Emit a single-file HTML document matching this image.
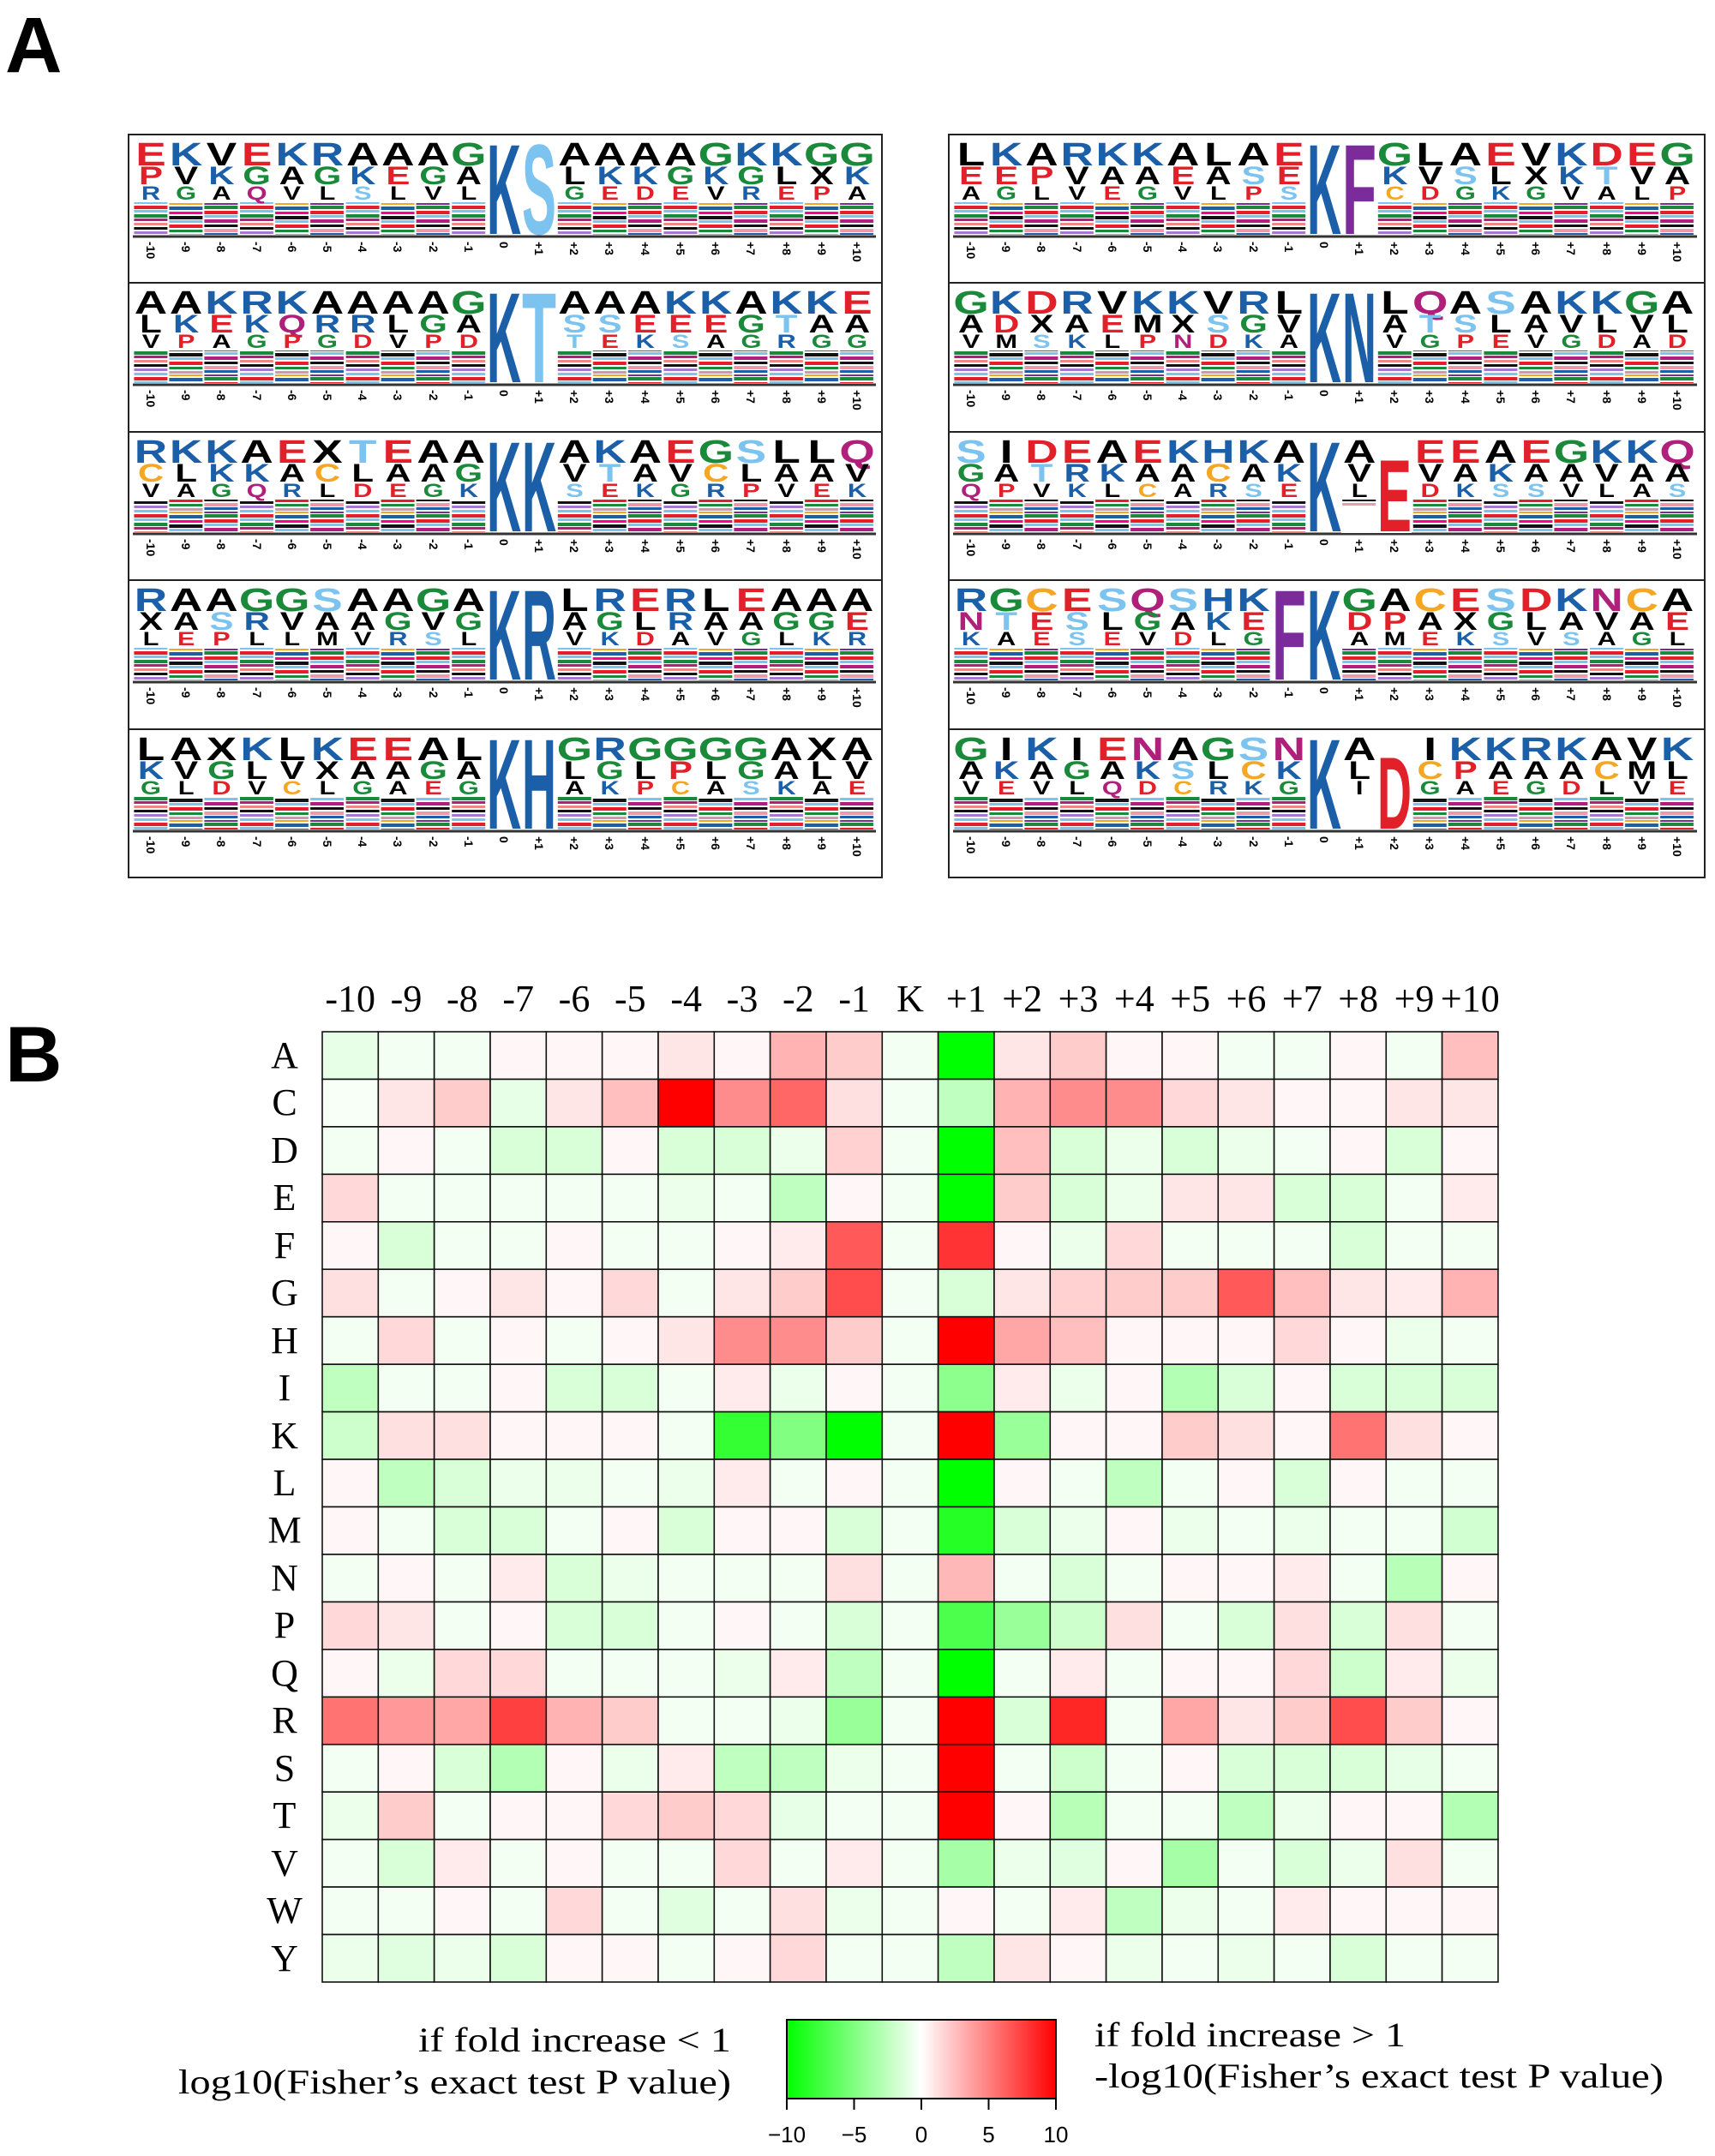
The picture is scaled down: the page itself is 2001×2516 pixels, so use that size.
<!DOCTYPE html>
<html><head><meta charset="utf-8">
<style>
html,body{margin:0;padding:0;background:#fff}
svg{display:block}
.lg{font-family:"Liberation Sans",sans-serif;font-weight:bold}
.k{fill:#1b5fa8}.e{fill:#e2202a}.g{fill:#1a8a3a}.s{fill:#7cc4ef}.c{fill:#f5a623}.n{fill:#b0207a}.f{fill:#7b2c9a}
.tk text{font-family:"Liberation Sans",sans-serif;font-size:14px;font-weight:bold;dominant-baseline:central}
.hm{font-family:"Liberation Serif",serif;font-size:44px}
</style></head>
<body>
<svg id="s" width="2001" height="2516" viewBox="0 0 2001 2516" xmlns="http://www.w3.org/2000/svg">
<defs>
<pattern id="pa" patternUnits="userSpaceOnUse" x="155.4" y="0" width="123.6" height="40">
<rect x="1" y="0" width="39" height="4" fill="#e2202a"/><rect x="1" y="5" width="39" height="3" fill="#7cc4ef"/><rect x="1" y="10" width="39" height="4" fill="#1a8a3a"/><rect x="1" y="15" width="39" height="3" fill="#b0207a"/><rect x="1" y="20" width="39" height="3" fill="#e88"/><rect x="1" y="25" width="39" height="3" fill="#111"/><rect x="1" y="30" width="39" height="3" fill="#a7c"/><rect x="1" y="35" width="39" height="3" fill="#7cc4ef"/>
<rect x="42" y="1" width="39" height="4" fill="#1b5fa8"/><rect x="42" y="7" width="39" height="3" fill="#f08"/><rect x="42" y="12" width="39" height="4" fill="#111"/><rect x="42" y="17" width="39" height="3" fill="#7cc4ef"/><rect x="42" y="22" width="39" height="4" fill="#e2202a"/><rect x="42" y="28" width="39" height="3" fill="#1a8a3a"/><rect x="42" y="33" width="39" height="3" fill="#c9a"/><rect x="42" y="37" width="39" height="2" fill="#f5a623"/>
<rect x="83" y="0" width="39" height="4" fill="#1a8a3a"/><rect x="83" y="6" width="39" height="4" fill="#e2202a"/><rect x="83" y="11" width="39" height="3" fill="#7cc4ef"/><rect x="83" y="16" width="39" height="4" fill="#b0207a"/><rect x="83" y="22" width="39" height="3" fill="#111"/><rect x="83" y="27" width="39" height="4" fill="#e9a"/><rect x="83" y="32" width="39" height="3" fill="#1b5fa8"/><rect x="83" y="37" width="39" height="2" fill="#7b2c9a"/>
</pattern>
</defs>

<text x="6" y="84" font-family="Liberation Sans,sans-serif" font-weight="bold" font-size="92">A</text>
<text x="6" y="1262" font-family="Liberation Sans,sans-serif" font-weight="bold" font-size="92">B</text>

<rect x="150" y="157" width="879" height="867" fill="none" stroke="#222" stroke-width="2"/>
<rect x="1107" y="157" width="882" height="867" fill="none" stroke="#222" stroke-width="2"/>
<g stroke="#222" stroke-width="2">
<line x1="150" y1="330" x2="1029" y2="330"/><line x1="150" y1="504" x2="1029" y2="504"/><line x1="150" y1="677" x2="1029" y2="677"/><line x1="150" y1="851" x2="1029" y2="851"/>
<line x1="1107" y1="330" x2="1989" y2="330"/><line x1="1107" y1="504" x2="1989" y2="504"/><line x1="1107" y1="677" x2="1989" y2="677"/><line x1="1107" y1="851" x2="1989" y2="851"/>
</g>
<g stroke="#333" stroke-width="3">
<line x1="155" y1="276" x2="1022" y2="276"/><line x1="155" y1="449" x2="1022" y2="449"/><line x1="155" y1="623" x2="1022" y2="623"/><line x1="155" y1="796" x2="1022" y2="796"/><line x1="155" y1="970" x2="1022" y2="970"/>
<line x1="1112" y1="276" x2="1980" y2="276"/><line x1="1112" y1="449" x2="1980" y2="449"/><line x1="1112" y1="623" x2="1980" y2="623"/><line x1="1112" y1="796" x2="1980" y2="796"/><line x1="1112" y1="970" x2="1980" y2="970"/>
</g>

<g fill="url(#pa)">
<rect x="155" y="236" width="866" height="38"/><rect x="155" y="409" width="866" height="38"/><rect x="155" y="583" width="866" height="38"/><rect x="155" y="756" width="866" height="38"/><rect x="155" y="930" width="866" height="38"/>
<rect x="155" y="236" width="866" height="38" transform="translate(957,0)"/><rect x="155" y="409" width="866" height="38" transform="translate(957,0)"/><rect x="155" y="583" width="866" height="38" transform="translate(957,0)"/><rect x="155" y="756" width="866" height="38" transform="translate(957,0)"/><rect x="155" y="930" width="866" height="38" transform="translate(957,0)"/>
</g>
<g fill="#fff">
<rect x="567" y="160" width="82" height="114"/><rect x="567" y="333" width="82" height="114"/><rect x="567" y="507" width="82" height="114"/><rect x="567" y="680" width="82" height="114"/><rect x="567" y="854" width="82" height="114"/>
<rect x="1524" y="160" width="82" height="114"/><rect x="1524" y="333" width="82" height="114"/><rect x="1524" y="507" width="41" height="114"/><rect x="1565" y="590" width="41" height="32"/><rect x="1606" y="534" width="41" height="88"/><rect x="1483" y="680" width="82" height="114"/><rect x="1524" y="854" width="41" height="114"/><rect x="1565" y="905" width="41" height="63"/><rect x="1606" y="880" width="41" height="88"/>
</g>

<!-- letters left -->
<g class="lg" text-anchor="middle" transform="translate(176,0) scale(1.4,1)">
<text font-size="38" y="193" x="0 29.4 58.9 88.3 117.7 147.1 176.6 206 235.4 264.9 353.2 382.6 412 441.4 470.9 500.3 529.7 559.1 588.6"><tspan class="e">E</tspan><tspan class="k">K</tspan>V<tspan class="e">E</tspan><tspan class="k">KR</tspan>AAA<tspan class="g">G</tspan>AAAA<tspan class="g">G</tspan><tspan class="k">KK</tspan><tspan class="g">GG</tspan></text>
<text font-size="30" y="215" x="0 29.4 58.9 88.3 117.7 147.1 176.6 206 235.4 264.9 353.2 382.6 412 441.4 470.9 500.3 529.7 559.1 588.6"><tspan class="e">P</tspan>V<tspan class="k">K</tspan><tspan class="g">G</tspan>A<tspan class="g">G</tspan><tspan class="k">K</tspan><tspan class="e">E</tspan><tspan class="g">G</tspan>AL<tspan class="k">KK</tspan><tspan class="g">G</tspan><tspan class="k">K</tspan><tspan class="g">G</tspan>LX<tspan class="k">K</tspan></text>
<text font-size="22" y="233" x="0 29.4 58.9 88.3 117.7 147.1 176.6 206 235.4 264.9 353.2 382.6 412 441.4 470.9 500.3 529.7 559.1 588.6"><tspan class="k">R</tspan><tspan class="g">G</tspan>A<tspan class="n">Q</tspan>VL<tspan class="s">S</tspan>LVL<tspan class="g">G</tspan><tspan class="e">EDE</tspan>V<tspan class="k">R</tspan><tspan class="e">EP</tspan>A</text>

<text font-size="38" y="366" x="0 29.4 58.9 88.3 117.7 147.1 176.6 206 235.4 264.9 353.2 382.6 412 441.4 470.9 500.3 529.7 559.1 588.6">AA<tspan class="k">KRK</tspan>AAAA<tspan class="g">G</tspan>AAA<tspan class="k">KK</tspan>A<tspan class="k">KK</tspan><tspan class="e">E</tspan></text>
<text font-size="30" y="388" x="0 29.4 58.9 88.3 117.7 147.1 176.6 206 235.4 264.9 353.2 382.6 412 441.4 470.9 500.3 529.7 559.1 588.6">L<tspan class="k">K</tspan><tspan class="e">E</tspan><tspan class="k">K</tspan><tspan class="n">Q</tspan><tspan class="k">RR</tspan>L<tspan class="g">G</tspan>A<tspan class="s">SS</tspan><tspan class="e">EEE</tspan><tspan class="g">G</tspan><tspan class="s">T</tspan>AA</text>
<text font-size="22" y="406" x="0 29.4 58.9 88.3 117.7 147.1 176.6 206 235.4 264.9 353.2 382.6 412 441.4 470.9 500.3 529.7 559.1 588.6">V<tspan class="e">P</tspan>A<tspan class="g">G</tspan><tspan class="e">P</tspan><tspan class="g">G</tspan><tspan class="e">D</tspan>V<tspan class="e">PD</tspan><tspan class="s">T</tspan><tspan class="e">E</tspan><tspan class="k">K</tspan><tspan class="s">S</tspan>A<tspan class="g">G</tspan><tspan class="k">R</tspan><tspan class="g">GG</tspan></text>

<text font-size="38" y="540" x="0 29.4 58.9 88.3 117.7 147.1 176.6 206 235.4 264.9 353.2 382.6 412 441.4 470.9 500.3 529.7 559.1 588.6"><tspan class="k">RKK</tspan>A<tspan class="e">E</tspan>X<tspan class="s">T</tspan><tspan class="e">E</tspan>AAA<tspan class="k">K</tspan>A<tspan class="e">E</tspan><tspan class="g">G</tspan><tspan class="s">S</tspan>LL<tspan class="n">Q</tspan></text>
<text font-size="30" y="562" x="0 29.4 58.9 88.3 117.7 147.1 176.6 206 235.4 264.9 353.2 382.6 412 441.4 470.9 500.3 529.7 559.1 588.6"><tspan class="c">C</tspan>L<tspan class="k">KK</tspan>A<tspan class="c">C</tspan>LAA<tspan class="g">G</tspan>V<tspan class="s">T</tspan>AV<tspan class="c">C</tspan>LAAV</text>
<text font-size="22" y="580" x="0 29.4 58.9 88.3 117.7 147.1 176.6 206 235.4 264.9 353.2 382.6 412 441.4 470.9 500.3 529.7 559.1 588.6">VA<tspan class="g">G</tspan><tspan class="n">Q</tspan><tspan class="k">R</tspan>L<tspan class="e">DE</tspan><tspan class="g">G</tspan><tspan class="k">K</tspan><tspan class="s">S</tspan><tspan class="e">E</tspan><tspan class="k">K</tspan><tspan class="g">G</tspan><tspan class="k">R</tspan><tspan class="e">P</tspan>V<tspan class="e">E</tspan><tspan class="k">K</tspan></text>

<text font-size="38" y="713" x="0 29.4 58.9 88.3 117.7 147.1 176.6 206 235.4 264.9 353.2 382.6 412 441.4 470.9 500.3 529.7 559.1 588.6"><tspan class="k">R</tspan>AA<tspan class="g">GG</tspan><tspan class="s">S</tspan>AA<tspan class="g">G</tspan>AL<tspan class="k">R</tspan><tspan class="e">E</tspan><tspan class="k">R</tspan>L<tspan class="e">E</tspan>AAA</text>
<text font-size="30" y="735" x="0 29.4 58.9 88.3 117.7 147.1 176.6 206 235.4 264.9 353.2 382.6 412 441.4 470.9 500.3 529.7 559.1 588.6">XA<tspan class="s">S</tspan><tspan class="k">R</tspan>VAA<tspan class="g">G</tspan>V<tspan class="g">G</tspan>A<tspan class="g">G</tspan>L<tspan class="k">R</tspan>AA<tspan class="g">GG</tspan><tspan class="e">E</tspan></text>
<text font-size="22" y="753" x="0 29.4 58.9 88.3 117.7 147.1 176.6 206 235.4 264.9 353.2 382.6 412 441.4 470.9 500.3 529.7 559.1 588.6">L<tspan class="e">EP</tspan>LLMV<tspan class="k">R</tspan><tspan class="s">S</tspan>LV<tspan class="k">K</tspan><tspan class="e">D</tspan>AV<tspan class="g">G</tspan>L<tspan class="k">KR</tspan></text>

<text font-size="38" y="887" x="0 29.4 58.9 88.3 117.7 147.1 176.6 206 235.4 264.9 353.2 382.6 412 441.4 470.9 500.3 529.7 559.1 588.6">LAX<tspan class="k">K</tspan>L<tspan class="k">K</tspan><tspan class="e">EE</tspan>AL<tspan class="g">G</tspan><tspan class="k">R</tspan><tspan class="g">GGGG</tspan>AXA</text>
<text font-size="30" y="909" x="0 29.4 58.9 88.3 117.7 147.1 176.6 206 235.4 264.9 353.2 382.6 412 441.4 470.9 500.3 529.7 559.1 588.6"><tspan class="k">K</tspan>V<tspan class="g">G</tspan>LVXAA<tspan class="g">G</tspan>AL<tspan class="g">G</tspan>L<tspan class="e">P</tspan>L<tspan class="g">G</tspan>ALV</text>
<text font-size="22" y="927" x="0 29.4 58.9 88.3 117.7 147.1 176.6 206 235.4 264.9 353.2 382.6 412 441.4 470.9 500.3 529.7 559.1 588.6"><tspan class="g">G</tspan>L<tspan class="e">D</tspan>V<tspan class="c">C</tspan>L<tspan class="g">G</tspan>A<tspan class="e">E</tspan><tspan class="g">G</tspan>A<tspan class="k">K</tspan><tspan class="e">P</tspan><tspan class="c">C</tspan>A<tspan class="s">S</tspan><tspan class="k">K</tspan>A<tspan class="e">E</tspan></text>
</g>

<!-- letters right -->
<g class="lg" text-anchor="middle" transform="translate(1133,0) scale(1.4,1)">
<text font-size="38" y="193" x="0 29.4 58.9 88.3 117.7 147.1 176.6 206 235.4 264.9 353.2 382.6 412 441.4 470.9 500.3 529.7 559.1 588.6">L<tspan class="k">K</tspan>A<tspan class="k">RKK</tspan>ALA<tspan class="e">E</tspan><tspan class="g">G</tspan>LA<tspan class="e">E</tspan>V<tspan class="k">K</tspan><tspan class="e">DE</tspan><tspan class="g">G</tspan></text>
<text font-size="30" y="215" x="0 29.4 58.9 88.3 117.7 147.1 176.6 206 235.4 264.9 353.2 382.6 412 441.4 470.9 500.3 529.7 559.1 588.6"><tspan class="e">EEP</tspan>VAA<tspan class="e">E</tspan>A<tspan class="s">S</tspan><tspan class="e">E</tspan><tspan class="k">K</tspan>V<tspan class="s">S</tspan>LX<tspan class="k">K</tspan><tspan class="s">T</tspan>VA</text>
<text font-size="22" y="233" x="0 29.4 58.9 88.3 117.7 147.1 176.6 206 235.4 264.9 353.2 382.6 412 441.4 470.9 500.3 529.7 559.1 588.6">A<tspan class="g">G</tspan>LV<tspan class="e">E</tspan><tspan class="g">G</tspan>VL<tspan class="e">P</tspan><tspan class="s">S</tspan><tspan class="c">C</tspan><tspan class="e">D</tspan><tspan class="g">G</tspan><tspan class="k">K</tspan><tspan class="g">G</tspan>VAL<tspan class="e">P</tspan></text>

<text font-size="38" y="366" x="0 29.4 58.9 88.3 117.7 147.1 176.6 206 235.4 264.9 353.2 382.6 412 441.4 470.9 500.3 529.7 559.1 588.6"><tspan class="g">G</tspan><tspan class="k">K</tspan><tspan class="e">D</tspan><tspan class="k">R</tspan>V<tspan class="k">KK</tspan>V<tspan class="k">R</tspan>LL<tspan class="n">Q</tspan>A<tspan class="s">S</tspan>A<tspan class="k">KK</tspan><tspan class="g">G</tspan>A</text>
<text font-size="30" y="388" x="0 29.4 58.9 88.3 117.7 147.1 176.6 206 235.4 264.9 353.2 382.6 412 441.4 470.9 500.3 529.7 559.1 588.6">A<tspan class="e">D</tspan>XA<tspan class="e">E</tspan>MX<tspan class="s">S</tspan><tspan class="g">G</tspan>VA<tspan class="s">TS</tspan>LAVLVL</text>
<text font-size="22" y="406" x="0 29.4 58.9 88.3 117.7 147.1 176.6 206 235.4 264.9 353.2 382.6 412 441.4 470.9 500.3 529.7 559.1 588.6">VM<tspan class="s">S</tspan><tspan class="k">K</tspan>L<tspan class="e">P</tspan><tspan class="n">N</tspan><tspan class="e">D</tspan><tspan class="k">K</tspan>AV<tspan class="g">G</tspan><tspan class="e">PE</tspan>V<tspan class="g">G</tspan><tspan class="e">D</tspan>A<tspan class="e">D</tspan></text>

<text font-size="38" y="540" x="0 29.4 58.9 88.3 117.7 147.1 176.6 206 235.4 264.9 323.7 382.6 412 441.4 470.9 500.3 529.7 559.1 588.6"><tspan class="s">S</tspan>I<tspan class="e">DE</tspan>A<tspan class="e">E</tspan><tspan class="k">KHK</tspan>AA<tspan class="e">EE</tspan>A<tspan class="e">E</tspan><tspan class="g">G</tspan><tspan class="k">KK</tspan><tspan class="n">Q</tspan></text>
<text font-size="30" y="562" x="0 29.4 58.9 88.3 117.7 147.1 176.6 206 235.4 264.9 323.7 382.6 412 441.4 470.9 500.3 529.7 559.1 588.6"><tspan class="g">G</tspan>A<tspan class="s">T</tspan><tspan class="k">RK</tspan>AA<tspan class="c">C</tspan>A<tspan class="k">K</tspan>VVA<tspan class="k">K</tspan>AAVAA</text>
<text font-size="22" y="580" x="0 29.4 58.9 88.3 117.7 147.1 176.6 206 235.4 264.9 323.7 382.6 412 441.4 470.9 500.3 529.7 559.1 588.6"><tspan class="n">Q</tspan><tspan class="e">P</tspan>V<tspan class="k">K</tspan>L<tspan class="c">C</tspan>A<tspan class="k">R</tspan><tspan class="s">S</tspan><tspan class="e">E</tspan>L<tspan class="e">D</tspan><tspan class="k">K</tspan><tspan class="s">SS</tspan>VLA<tspan class="s">S</tspan></text>

<text font-size="38" y="713" x="0 29.4 58.9 88.3 117.7 147.1 176.6 206 235.4 323.7 353.2 382.6 412 441.4 470.9 500.3 529.7 559.1 588.6"><tspan class="k">R</tspan><tspan class="g">G</tspan><tspan class="c">C</tspan><tspan class="e">E</tspan><tspan class="s">S</tspan><tspan class="n">Q</tspan><tspan class="s">S</tspan><tspan class="k">HK</tspan><tspan class="g">G</tspan>A<tspan class="c">C</tspan><tspan class="e">E</tspan><tspan class="s">S</tspan><tspan class="e">D</tspan><tspan class="k">K</tspan><tspan class="n">N</tspan><tspan class="c">C</tspan>A</text>
<text font-size="30" y="735" x="0 29.4 58.9 88.3 117.7 147.1 176.6 206 235.4 323.7 353.2 382.6 412 441.4 470.9 500.3 529.7 559.1 588.6"><tspan class="n">N</tspan><tspan class="s">T</tspan><tspan class="e">E</tspan><tspan class="s">S</tspan>L<tspan class="g">G</tspan>A<tspan class="k">K</tspan><tspan class="e">E</tspan><tspan class="e">DP</tspan>AX<tspan class="g">G</tspan>LAVA<tspan class="e">E</tspan></text>
<text font-size="22" y="753" x="0 29.4 58.9 88.3 117.7 147.1 176.6 206 235.4 323.7 353.2 382.6 412 441.4 470.9 500.3 529.7 559.1 588.6"><tspan class="k">K</tspan>A<tspan class="e">E</tspan><tspan class="s">S</tspan><tspan class="e">E</tspan>V<tspan class="e">D</tspan>L<tspan class="g">G</tspan>AM<tspan class="e">E</tspan><tspan class="k">K</tspan><tspan class="s">S</tspan>V<tspan class="s">S</tspan>A<tspan class="g">G</tspan>L</text>

<text font-size="38" y="887" x="0 29.4 58.9 88.3 117.7 147.1 176.6 206 235.4 264.9 323.7 382.6 412 441.4 470.9 500.3 529.7 559.1 588.6"><tspan class="g">G</tspan>I<tspan class="k">K</tspan>I<tspan class="e">E</tspan><tspan class="n">N</tspan>A<tspan class="g">G</tspan><tspan class="s">S</tspan><tspan class="n">N</tspan>AI<tspan class="k">KKRK</tspan>AV<tspan class="k">K</tspan></text>
<text font-size="30" y="909" x="0 29.4 58.9 88.3 117.7 147.1 176.6 206 235.4 264.9 323.7 382.6 412 441.4 470.9 500.3 529.7 559.1 588.6">A<tspan class="k">K</tspan>A<tspan class="g">G</tspan>A<tspan class="k">K</tspan><tspan class="s">S</tspan>L<tspan class="c">C</tspan><tspan class="k">K</tspan>L<tspan class="c">C</tspan><tspan class="e">P</tspan>AAA<tspan class="c">C</tspan>ML</text>
<text font-size="22" y="927" x="0 29.4 58.9 88.3 117.7 147.1 176.6 206 235.4 264.9 323.7 382.6 412 441.4 470.9 500.3 529.7 559.1 588.6">V<tspan class="e">E</tspan>VL<tspan class="n">Q</tspan><tspan class="e">D</tspan><tspan class="c">C</tspan><tspan class="k">RK</tspan><tspan class="g">G</tspan>I<tspan class="g">G</tspan>A<tspan class="e">E</tspan><tspan class="g">G</tspan><tspan class="e">D</tspan>LV<tspan class="e">E</tspan></text>
</g>

<g class="lg" text-anchor="middle" font-size="150">
<text x="588" y="273" textLength="40" lengthAdjust="spacingAndGlyphs" class="k">K</text><text x="629" y="273" textLength="40" lengthAdjust="spacingAndGlyphs" class="s">S</text>
<text x="588" y="446" textLength="40" lengthAdjust="spacingAndGlyphs" class="k">K</text><text x="629" y="446" textLength="40" lengthAdjust="spacingAndGlyphs" class="s">T</text>
<text x="588" y="620" textLength="40" lengthAdjust="spacingAndGlyphs" class="k">K</text><text x="629" y="620" textLength="40" lengthAdjust="spacingAndGlyphs" class="k">K</text>
<text x="588" y="793" textLength="40" lengthAdjust="spacingAndGlyphs" class="k">K</text><text x="629" y="793" textLength="40" lengthAdjust="spacingAndGlyphs" class="k">R</text>
<text x="588" y="967" textLength="40" lengthAdjust="spacingAndGlyphs" class="k">K</text><text x="629" y="967" textLength="40" lengthAdjust="spacingAndGlyphs" class="k">H</text>
<text x="1545" y="273" textLength="40" lengthAdjust="spacingAndGlyphs" class="k">K</text><text x="1586" y="273" textLength="40" lengthAdjust="spacingAndGlyphs" class="f">F</text>
<text x="1545" y="446" textLength="40" lengthAdjust="spacingAndGlyphs" class="k">K</text><text x="1586" y="446" textLength="40" lengthAdjust="spacingAndGlyphs" class="k">N</text>
<text x="1545" y="620" textLength="40" lengthAdjust="spacingAndGlyphs" class="k">K</text><text x="1627" y="620" font-size="120" textLength="40" lengthAdjust="spacingAndGlyphs" class="e">E</text>
<text x="1504" y="793" textLength="40" lengthAdjust="spacingAndGlyphs" class="f">F</text><text x="1545" y="793" textLength="40" lengthAdjust="spacingAndGlyphs" class="k">K</text>
<text x="1545" y="967" textLength="40" lengthAdjust="spacingAndGlyphs" class="k">K</text><text x="1627" y="967" font-size="120" textLength="40" lengthAdjust="spacingAndGlyphs" class="e">D</text>
</g>

<g class="tk">
<g transform="translate(0,282)"><text x="176" transform="rotate(90 176 0)">-10</text><text x="217" transform="rotate(90 217 0)">-9</text><text x="258" transform="rotate(90 258 0)">-8</text><text x="300" transform="rotate(90 300 0)">-7</text><text x="341" transform="rotate(90 341 0)">-6</text><text x="382" transform="rotate(90 382 0)">-5</text><text x="423" transform="rotate(90 423 0)">-4</text><text x="464" transform="rotate(90 464 0)">-3</text><text x="506" transform="rotate(90 506 0)">-2</text><text x="547" transform="rotate(90 547 0)">-1</text><text x="588" transform="rotate(90 588 0)">0</text><text x="629" transform="rotate(90 629 0)">+1</text><text x="670" transform="rotate(90 670 0)">+2</text><text x="711" transform="rotate(90 711 0)">+3</text><text x="753" transform="rotate(90 753 0)">+4</text><text x="794" transform="rotate(90 794 0)">+5</text><text x="835" transform="rotate(90 835 0)">+6</text><text x="876" transform="rotate(90 876 0)">+7</text><text x="918" transform="rotate(90 918 0)">+8</text><text x="959" transform="rotate(90 959 0)">+9</text><text x="1000" transform="rotate(90 1000 0)">+10</text></g>
<g transform="translate(0,455)"><text x="176" transform="rotate(90 176 0)">-10</text><text x="217" transform="rotate(90 217 0)">-9</text><text x="258" transform="rotate(90 258 0)">-8</text><text x="300" transform="rotate(90 300 0)">-7</text><text x="341" transform="rotate(90 341 0)">-6</text><text x="382" transform="rotate(90 382 0)">-5</text><text x="423" transform="rotate(90 423 0)">-4</text><text x="464" transform="rotate(90 464 0)">-3</text><text x="506" transform="rotate(90 506 0)">-2</text><text x="547" transform="rotate(90 547 0)">-1</text><text x="588" transform="rotate(90 588 0)">0</text><text x="629" transform="rotate(90 629 0)">+1</text><text x="670" transform="rotate(90 670 0)">+2</text><text x="711" transform="rotate(90 711 0)">+3</text><text x="753" transform="rotate(90 753 0)">+4</text><text x="794" transform="rotate(90 794 0)">+5</text><text x="835" transform="rotate(90 835 0)">+6</text><text x="876" transform="rotate(90 876 0)">+7</text><text x="918" transform="rotate(90 918 0)">+8</text><text x="959" transform="rotate(90 959 0)">+9</text><text x="1000" transform="rotate(90 1000 0)">+10</text></g>
<g transform="translate(0,629)"><text x="176" transform="rotate(90 176 0)">-10</text><text x="217" transform="rotate(90 217 0)">-9</text><text x="258" transform="rotate(90 258 0)">-8</text><text x="300" transform="rotate(90 300 0)">-7</text><text x="341" transform="rotate(90 341 0)">-6</text><text x="382" transform="rotate(90 382 0)">-5</text><text x="423" transform="rotate(90 423 0)">-4</text><text x="464" transform="rotate(90 464 0)">-3</text><text x="506" transform="rotate(90 506 0)">-2</text><text x="547" transform="rotate(90 547 0)">-1</text><text x="588" transform="rotate(90 588 0)">0</text><text x="629" transform="rotate(90 629 0)">+1</text><text x="670" transform="rotate(90 670 0)">+2</text><text x="711" transform="rotate(90 711 0)">+3</text><text x="753" transform="rotate(90 753 0)">+4</text><text x="794" transform="rotate(90 794 0)">+5</text><text x="835" transform="rotate(90 835 0)">+6</text><text x="876" transform="rotate(90 876 0)">+7</text><text x="918" transform="rotate(90 918 0)">+8</text><text x="959" transform="rotate(90 959 0)">+9</text><text x="1000" transform="rotate(90 1000 0)">+10</text></g>
<g transform="translate(0,802)"><text x="176" transform="rotate(90 176 0)">-10</text><text x="217" transform="rotate(90 217 0)">-9</text><text x="258" transform="rotate(90 258 0)">-8</text><text x="300" transform="rotate(90 300 0)">-7</text><text x="341" transform="rotate(90 341 0)">-6</text><text x="382" transform="rotate(90 382 0)">-5</text><text x="423" transform="rotate(90 423 0)">-4</text><text x="464" transform="rotate(90 464 0)">-3</text><text x="506" transform="rotate(90 506 0)">-2</text><text x="547" transform="rotate(90 547 0)">-1</text><text x="588" transform="rotate(90 588 0)">0</text><text x="629" transform="rotate(90 629 0)">+1</text><text x="670" transform="rotate(90 670 0)">+2</text><text x="711" transform="rotate(90 711 0)">+3</text><text x="753" transform="rotate(90 753 0)">+4</text><text x="794" transform="rotate(90 794 0)">+5</text><text x="835" transform="rotate(90 835 0)">+6</text><text x="876" transform="rotate(90 876 0)">+7</text><text x="918" transform="rotate(90 918 0)">+8</text><text x="959" transform="rotate(90 959 0)">+9</text><text x="1000" transform="rotate(90 1000 0)">+10</text></g>
<g transform="translate(0,976)"><text x="176" transform="rotate(90 176 0)">-10</text><text x="217" transform="rotate(90 217 0)">-9</text><text x="258" transform="rotate(90 258 0)">-8</text><text x="300" transform="rotate(90 300 0)">-7</text><text x="341" transform="rotate(90 341 0)">-6</text><text x="382" transform="rotate(90 382 0)">-5</text><text x="423" transform="rotate(90 423 0)">-4</text><text x="464" transform="rotate(90 464 0)">-3</text><text x="506" transform="rotate(90 506 0)">-2</text><text x="547" transform="rotate(90 547 0)">-1</text><text x="588" transform="rotate(90 588 0)">0</text><text x="629" transform="rotate(90 629 0)">+1</text><text x="670" transform="rotate(90 670 0)">+2</text><text x="711" transform="rotate(90 711 0)">+3</text><text x="753" transform="rotate(90 753 0)">+4</text><text x="794" transform="rotate(90 794 0)">+5</text><text x="835" transform="rotate(90 835 0)">+6</text><text x="876" transform="rotate(90 876 0)">+7</text><text x="918" transform="rotate(90 918 0)">+8</text><text x="959" transform="rotate(90 959 0)">+9</text><text x="1000" transform="rotate(90 1000 0)">+10</text></g>
</g>
<g class="tk" transform="translate(957,0)">
<g transform="translate(0,282)"><text x="176" transform="rotate(90 176 0)">-10</text><text x="217" transform="rotate(90 217 0)">-9</text><text x="258" transform="rotate(90 258 0)">-8</text><text x="300" transform="rotate(90 300 0)">-7</text><text x="341" transform="rotate(90 341 0)">-6</text><text x="382" transform="rotate(90 382 0)">-5</text><text x="423" transform="rotate(90 423 0)">-4</text><text x="464" transform="rotate(90 464 0)">-3</text><text x="506" transform="rotate(90 506 0)">-2</text><text x="547" transform="rotate(90 547 0)">-1</text><text x="588" transform="rotate(90 588 0)">0</text><text x="629" transform="rotate(90 629 0)">+1</text><text x="670" transform="rotate(90 670 0)">+2</text><text x="711" transform="rotate(90 711 0)">+3</text><text x="753" transform="rotate(90 753 0)">+4</text><text x="794" transform="rotate(90 794 0)">+5</text><text x="835" transform="rotate(90 835 0)">+6</text><text x="876" transform="rotate(90 876 0)">+7</text><text x="918" transform="rotate(90 918 0)">+8</text><text x="959" transform="rotate(90 959 0)">+9</text><text x="1000" transform="rotate(90 1000 0)">+10</text></g>
<g transform="translate(0,455)"><text x="176" transform="rotate(90 176 0)">-10</text><text x="217" transform="rotate(90 217 0)">-9</text><text x="258" transform="rotate(90 258 0)">-8</text><text x="300" transform="rotate(90 300 0)">-7</text><text x="341" transform="rotate(90 341 0)">-6</text><text x="382" transform="rotate(90 382 0)">-5</text><text x="423" transform="rotate(90 423 0)">-4</text><text x="464" transform="rotate(90 464 0)">-3</text><text x="506" transform="rotate(90 506 0)">-2</text><text x="547" transform="rotate(90 547 0)">-1</text><text x="588" transform="rotate(90 588 0)">0</text><text x="629" transform="rotate(90 629 0)">+1</text><text x="670" transform="rotate(90 670 0)">+2</text><text x="711" transform="rotate(90 711 0)">+3</text><text x="753" transform="rotate(90 753 0)">+4</text><text x="794" transform="rotate(90 794 0)">+5</text><text x="835" transform="rotate(90 835 0)">+6</text><text x="876" transform="rotate(90 876 0)">+7</text><text x="918" transform="rotate(90 918 0)">+8</text><text x="959" transform="rotate(90 959 0)">+9</text><text x="1000" transform="rotate(90 1000 0)">+10</text></g>
<g transform="translate(0,629)"><text x="176" transform="rotate(90 176 0)">-10</text><text x="217" transform="rotate(90 217 0)">-9</text><text x="258" transform="rotate(90 258 0)">-8</text><text x="300" transform="rotate(90 300 0)">-7</text><text x="341" transform="rotate(90 341 0)">-6</text><text x="382" transform="rotate(90 382 0)">-5</text><text x="423" transform="rotate(90 423 0)">-4</text><text x="464" transform="rotate(90 464 0)">-3</text><text x="506" transform="rotate(90 506 0)">-2</text><text x="547" transform="rotate(90 547 0)">-1</text><text x="588" transform="rotate(90 588 0)">0</text><text x="629" transform="rotate(90 629 0)">+1</text><text x="670" transform="rotate(90 670 0)">+2</text><text x="711" transform="rotate(90 711 0)">+3</text><text x="753" transform="rotate(90 753 0)">+4</text><text x="794" transform="rotate(90 794 0)">+5</text><text x="835" transform="rotate(90 835 0)">+6</text><text x="876" transform="rotate(90 876 0)">+7</text><text x="918" transform="rotate(90 918 0)">+8</text><text x="959" transform="rotate(90 959 0)">+9</text><text x="1000" transform="rotate(90 1000 0)">+10</text></g>
<g transform="translate(0,802)"><text x="176" transform="rotate(90 176 0)">-10</text><text x="217" transform="rotate(90 217 0)">-9</text><text x="258" transform="rotate(90 258 0)">-8</text><text x="300" transform="rotate(90 300 0)">-7</text><text x="341" transform="rotate(90 341 0)">-6</text><text x="382" transform="rotate(90 382 0)">-5</text><text x="423" transform="rotate(90 423 0)">-4</text><text x="464" transform="rotate(90 464 0)">-3</text><text x="506" transform="rotate(90 506 0)">-2</text><text x="547" transform="rotate(90 547 0)">-1</text><text x="588" transform="rotate(90 588 0)">0</text><text x="629" transform="rotate(90 629 0)">+1</text><text x="670" transform="rotate(90 670 0)">+2</text><text x="711" transform="rotate(90 711 0)">+3</text><text x="753" transform="rotate(90 753 0)">+4</text><text x="794" transform="rotate(90 794 0)">+5</text><text x="835" transform="rotate(90 835 0)">+6</text><text x="876" transform="rotate(90 876 0)">+7</text><text x="918" transform="rotate(90 918 0)">+8</text><text x="959" transform="rotate(90 959 0)">+9</text><text x="1000" transform="rotate(90 1000 0)">+10</text></g>
<g transform="translate(0,976)"><text x="176" transform="rotate(90 176 0)">-10</text><text x="217" transform="rotate(90 217 0)">-9</text><text x="258" transform="rotate(90 258 0)">-8</text><text x="300" transform="rotate(90 300 0)">-7</text><text x="341" transform="rotate(90 341 0)">-6</text><text x="382" transform="rotate(90 382 0)">-5</text><text x="423" transform="rotate(90 423 0)">-4</text><text x="464" transform="rotate(90 464 0)">-3</text><text x="506" transform="rotate(90 506 0)">-2</text><text x="547" transform="rotate(90 547 0)">-1</text><text x="588" transform="rotate(90 588 0)">0</text><text x="629" transform="rotate(90 629 0)">+1</text><text x="670" transform="rotate(90 670 0)">+2</text><text x="711" transform="rotate(90 711 0)">+3</text><text x="753" transform="rotate(90 753 0)">+4</text><text x="794" transform="rotate(90 794 0)">+5</text><text x="835" transform="rotate(90 835 0)">+6</text><text x="876" transform="rotate(90 876 0)">+7</text><text x="918" transform="rotate(90 918 0)">+8</text><text x="959" transform="rotate(90 959 0)">+9</text><text x="1000" transform="rotate(90 1000 0)">+10</text></g>
</g>

<g id="hm"></g>
<g class="hm" text-anchor="middle">
<text x="408.7" y="1180">-10</text><text x="474" y="1180">-9</text><text x="539.3" y="1180">-8</text><text x="604.7" y="1180">-7</text><text x="670" y="1180">-6</text><text x="735.3" y="1180">-5</text><text x="800.7" y="1180">-4</text><text x="866" y="1180">-3</text><text x="931.3" y="1180">-2</text><text x="996.7" y="1180">-1</text><text x="1062" y="1180">K</text><text x="1127.3" y="1180">+1</text><text x="1192.7" y="1180">+2</text><text x="1258" y="1180">+3</text><text x="1323.3" y="1180">+4</text><text x="1388.7" y="1180">+5</text><text x="1454" y="1180">+6</text><text x="1519.3" y="1180">+7</text><text x="1584.7" y="1180">+8</text><text x="1650" y="1180">+9</text><text x="1715.3" y="1180">+10</text>
<text x="332" y="1246">A</text><text x="332" y="1301">C</text><text x="332" y="1357">D</text><text x="332" y="1412">E</text><text x="332" y="1468">F</text><text x="332" y="1523">G</text><text x="332" y="1579">H</text><text x="332" y="1634">I</text><text x="332" y="1690">K</text><text x="332" y="1745">L</text><text x="332" y="1800">M</text><text x="332" y="1856">N</text><text x="332" y="1911">P</text><text x="332" y="1967">Q</text><text x="332" y="2022">R</text><text x="332" y="2078">S</text><text x="332" y="2133">T</text><text x="332" y="2189">V</text><text x="332" y="2244">W</text><text x="332" y="2300">Y</text>
</g>

<defs><linearGradient id="cb" x1="0" x2="1" y1="0" y2="0"><stop offset="0" stop-color="#00ff00"/><stop offset="0.5" stop-color="#ffffff"/><stop offset="1" stop-color="#ff0000"/></linearGradient></defs>
<rect x="918" y="2357" width="314" height="92" fill="url(#cb)" stroke="#000" stroke-width="2"/>
<g stroke="#000" stroke-width="2"><line x1="918" y1="2449" x2="918" y2="2462"/><line x1="996.5" y1="2449" x2="996.5" y2="2462"/><line x1="1075" y1="2449" x2="1075" y2="2462"/><line x1="1153.5" y1="2449" x2="1153.5" y2="2462"/><line x1="1232" y1="2449" x2="1232" y2="2462"/></g>
<g font-family="Liberation Sans,sans-serif" font-size="26" text-anchor="middle"><text x="918" y="2500">−10</text><text x="996.5" y="2500">−5</text><text x="1075" y="2500">0</text><text x="1153.5" y="2500">5</text><text x="1232" y="2500">10</text></g>
<g font-family="Liberation Serif,serif" font-size="40">
<text x="488" y="2394" textLength="365" lengthAdjust="spacingAndGlyphs">if fold increase &lt; 1</text>
<text x="208" y="2443" textLength="645" lengthAdjust="spacingAndGlyphs">log10(Fisher’s exact test P value)</text>
<text x="1277" y="2388" textLength="363" lengthAdjust="spacingAndGlyphs">if fold increase &gt; 1</text>
<text x="1277" y="2436" textLength="664" lengthAdjust="spacingAndGlyphs">-log10(Fisher’s exact test P value)</text>
</g>
</svg>
<script>
var D=[
[-1,-.5,-.5,.3,.3,.3,1,.3,3,2,-.5,-10,1,2,.3,.3,-.5,-.5,.3,-.5,2.5],
[-.3,1,2,-1,1,2.5,10,4.5,6,1.2,-.5,-2.5,3,4.5,4.5,1.5,1,.3,.3,1,1],
[-.5,.3,-.5,-1.5,-1.5,.3,-1.5,-1.5,-.8,1.8,-.5,-10,2.5,-1.5,-.8,-1.5,-.8,-.5,.3,-1.5,.3],
[1.5,-.5,-.5,-.5,-.5,-.5,-.8,-.5,-2.5,.3,-.5,-10,2,-1.5,-.8,1,1,-1.5,-1.5,-.5,.8],
[.3,-1.5,-.5,-.5,.3,-.5,-.5,.3,.8,6.5,-.5,8,.3,-.8,1.5,-.5,-.5,-.5,-1.5,-.5,-.5],
[1.2,-.5,.3,1,.3,1.5,-.5,1,2,7,-.5,-1.5,1,1.8,2,2,6.5,2.5,1,.8,3],
[-.5,1.5,-.5,.3,-.5,.3,1,4.5,4.5,2,-.5,10,3.5,2.5,.3,.3,.3,1.5,.3,-.8,-.5],
[-2.5,-.5,-.5,.3,-1.5,-1.5,-.5,.8,-.8,.3,-.5,-4.5,.8,-.8,.3,-3,-1.5,.3,-1.5,-1.5,-1.5],
[-2,1.2,1.2,.3,.3,.3,-.5,-8,-5,-10,-.5,10,-4,.3,.3,2,1.2,.3,5.5,1.2,.3],
[.3,-2.5,-1.5,-.8,-.8,-.5,-.8,.8,-.5,.3,-.5,-10,.3,-.5,-2.5,-.5,.3,-1.5,.3,-.5,-.5],
[.3,-.5,-1.5,-1.5,-.5,.3,-1.5,.3,.3,-1.5,-.5,-8.5,-1.5,-.8,.3,-.8,-.5,-.8,-.5,-.5,-1.8],
[-.5,.3,-.5,.8,-1.5,-.8,-.5,-.5,-.5,1.2,-.5,2.8,-.5,-1.5,-.5,.3,.3,.8,-.5,-2.8,.3],
[1.5,1,-.5,.3,-1.5,-1.5,-.5,.3,-.5,-1.5,-.5,-7,-4,-2,1.2,-.5,-1.5,1.2,-1.5,1.2,-.5],
[.3,-.8,1.5,1.5,-.5,-.5,-.5,-.8,.8,-2.5,-.5,-10,-.5,.8,-.5,.3,.3,1.5,-2,.8,-.8],
[5.5,4,3.5,7.5,3,2,-.5,-.5,-.8,-4,-.5,10,-1.5,8.5,-.5,3.5,1,2,7,2,.3],
[-.5,.3,-1.5,-3,.3,-.8,.8,-2.5,-2.5,-.8,-.5,10,-.5,-2,-.5,.3,-1.5,-1.5,-1.5,-1,-.5],
[-.8,2,-.5,.3,.3,1.5,2,1.5,-1,-.5,-.5,10,.3,-2.8,-.5,-.5,-2.5,-.8,.3,.3,-3],
[-.5,-1.5,.8,-.5,.3,-.5,-.5,1.5,-.5,.8,-.5,-3.5,-.8,-1.2,.3,-3.5,-.5,-1.5,-.8,1.2,-.5],
[-.5,-.5,.3,-.5,1.5,-.5,-1.2,-.5,1.2,-.8,-.5,.3,-.5,.8,-2.5,-.8,-.5,.8,.3,.3,.3],
[-.8,-1.2,-.8,-1.5,.3,.3,-.5,.3,1.5,-.5,-.5,-2.5,1,.3,-.8,-.5,-.8,-.5,-1.5,-.5,-.5]];
var g=document.getElementById('hm'),ns='http://www.w3.org/2000/svg',cw=65.33,ch=55.45;
for(var i=0;i<20;i++)for(var j=0;j<21;j++){var v=D[i][j],f=Math.min(Math.abs(v)/10,1),w=Math.round(255*(1-f)),c=v>=0?'rgb(255,'+w+','+w+')':'rgb('+w+',255,'+w+')';
var r=document.createElementNS(ns,'rect');r.setAttribute('x',376+j*cw);r.setAttribute('y',1204+i*ch);r.setAttribute('width',cw);r.setAttribute('height',ch);r.setAttribute('fill',c);r.setAttribute('stroke','#111');r.setAttribute('stroke-width','1.6');g.appendChild(r);}
</script>
</body></html>
